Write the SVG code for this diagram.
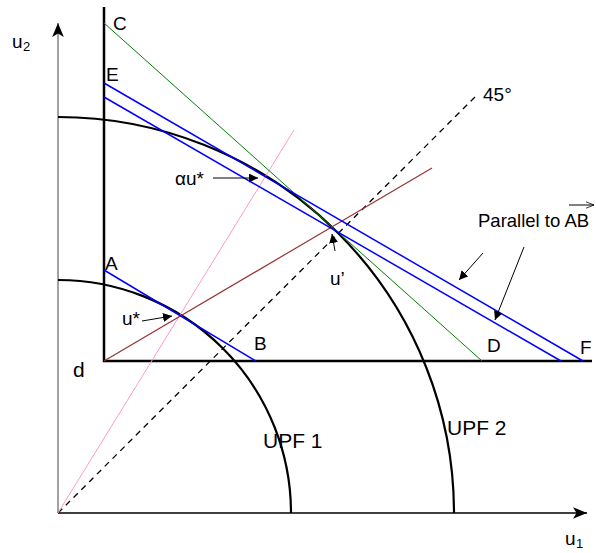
<svg xmlns="http://www.w3.org/2000/svg" width="596" height="553" viewBox="0 0 596 553">
<style>
text{font-family:"Liberation Sans",Arial,sans-serif;fill:#000}
.lbl{font-size:19px}
.big{font-size:21px}
.sub{font-size:13px}
.bold{stroke:#000;stroke-width:2.5;fill:none}
.upf{stroke:#000;stroke-width:2.2;fill:none}
.blue{stroke:#0000ff;stroke-width:1.5}
.ptr{stroke:#000;stroke-width:1;marker-end:url(#ah)}
</style>
<defs>
<marker id="ah" viewBox="0 0 10 10" refX="10" refY="5" markerWidth="9" markerHeight="9" markerUnits="userSpaceOnUse" orient="auto">
<path d="M0,0 L10,5 L0,10 Z" fill="#000"/>
</marker>
<marker id="ax" viewBox="0 0 12 10" refX="12" refY="5" markerWidth="14" markerHeight="12" markerUnits="userSpaceOnUse" orient="auto">
<path d="M0,0 L12,5 L0,10 L3,5 Z" fill="#000"/>
</marker>
<marker id="open" viewBox="0 0 10 10" refX="10" refY="5" markerWidth="8" markerHeight="8" markerUnits="userSpaceOnUse" orient="auto">
<path d="M0,1 L10,5 L0,9" fill="none" stroke="#000" stroke-width="1"/>
</marker>
</defs>
<g id="axes">
<line x1="58" y1="513" x2="58" y2="23" stroke="#444" stroke-width="1" marker-end="url(#ax)"/>
<line x1="58" y1="513" x2="587" y2="513" stroke="#000" stroke-width="1.5" marker-end="url(#ax)"/>
<text class="lbl" x="12" y="48">u</text><text class="sub" x="23" y="51">2</text>
<text class="lbl" x="565" y="545">u</text><text class="sub" x="576" y="548">1</text>
</g>
<g id="d-axes">
<path class="bold" d="M104,7 L104,361 L592,361"/>
<text class="big" x="73" y="377">d</text>
</g>
<g id="upf1">
<path class="upf" d="M58,280 A233,233 0 0 1 291,513"/>
<text class="big" x="263" y="448">UPF 1</text>
</g>
<g id="upf2">
<path class="upf" d="M58,117 A396,396 0 0 1 454,513"/>
<text class="big" x="447" y="435">UPF 2</text>
</g>
<g id="connectors">
<line x1="58" y1="513" x2="477" y2="95" stroke="#000" stroke-width="1.3" stroke-dasharray="6,5"/>
<line x1="58" y1="513" x2="294" y2="130" stroke="#ff99cc" stroke-width="1"/>
<line x1="104" y1="361" x2="432" y2="168" stroke="#993333" stroke-width="1.2"/>
<line x1="104" y1="23" x2="482" y2="361" stroke="#008000" stroke-width="1"/>
<line class="blue" x1="104" y1="83" x2="583" y2="361"/>
<line class="blue" x1="104" y1="97" x2="561" y2="361"/>
<line class="blue" x1="104" y1="270" x2="256" y2="361"/>
<line class="ptr" x1="142" y1="321" x2="172" y2="316"/>
<line class="ptr" x1="213" y1="178" x2="258" y2="178"/>
<line class="ptr" x1="335" y1="251" x2="332" y2="234"/>
<line class="ptr" x1="483" y1="253" x2="459" y2="280"/>
<line class="ptr" x1="524" y1="247" x2="495" y2="320"/>
<line x1="569" y1="205" x2="594" y2="205" stroke="#000" stroke-width="1" marker-end="url(#open)"/>
</g>
<g id="labels">
<text class="lbl" x="113" y="30">C</text>
<text class="lbl" x="106" y="81">E</text>
<text class="lbl" x="105" y="270">A</text>
<text class="lbl" x="254" y="350">B</text>
<text class="lbl" x="487" y="352">D</text>
<text class="lbl" x="580" y="354">F</text>
<text class="lbl" x="483" y="101">45°</text>
<text class="lbl" x="122" y="325">u*</text>
<text class="lbl" x="175" y="185">αu*</text>
<text class="lbl" x="330" y="285">u’</text>
<text class="lbl" x="478" y="227" style="font-size:18.5px">Parallel to AB</text>
</g>
</svg>
